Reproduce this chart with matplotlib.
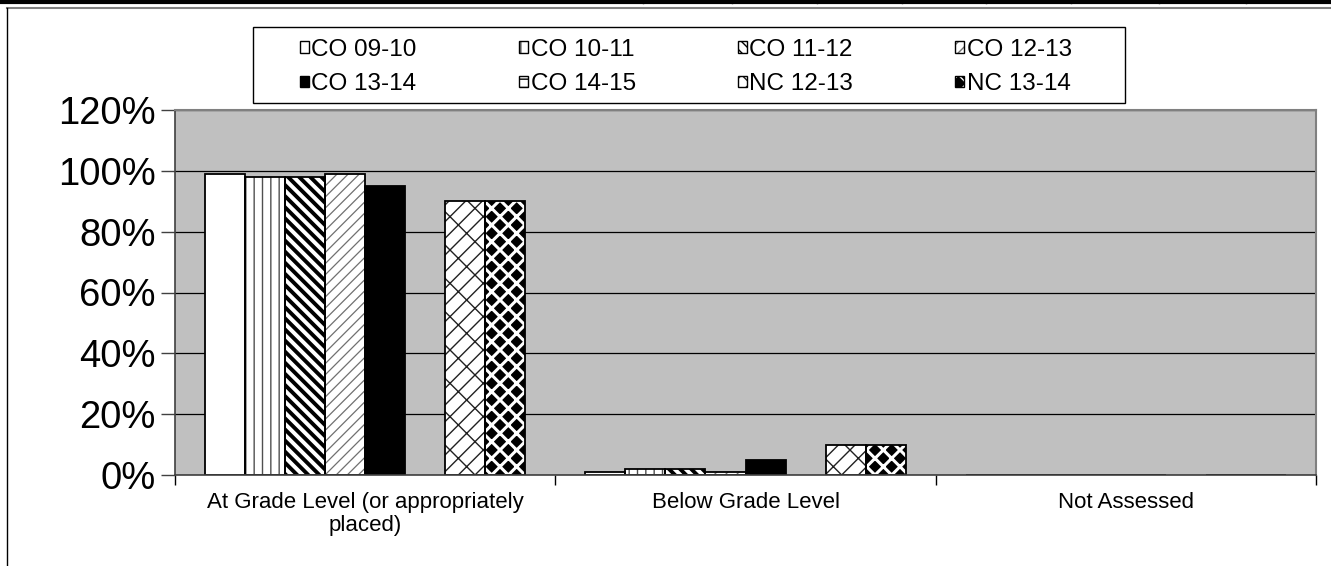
import matplotlib
matplotlib.use("Agg")
import matplotlib.pyplot as plt
import numpy as np
from matplotlib.lines import Line2D
from matplotlib.patches import Rectangle
from matplotlib.legend_handler import HandlerTuple
from matplotlib.ticker import FixedLocator, PercentFormatter

plt.rcParams['font.family'] = ['Liberation Sans', 'DejaVu Sans']

categories = ["At Grade Level (or appropriately\nplaced)", "Below Grade Level", "Not Assessed"]
series_names = ["CO 09-10", "CO 10-11", "CO 11-12", "CO 12-13",
                "CO 13-14", "CO 14-15", "NC 12-13", "NC 13-14"]
co_09_10 = [99, 1, 0]
co_10_11 = [98, 2, 0]
co_11_12 = [98, 2, 0]
co_12_13 = [99, 1, 0]
co_13_14 = [95, 5, 0]
co_14_15 = [np.nan, np.nan, np.nan]
nc_12_13 = [90, 10, 0]
nc_13_14 = [90, 10, 0]
series_values = [co_09_10, co_10_11, co_11_12, co_12_13,
                 co_13_14, co_14_15, nc_12_13, nc_13_14]
y_ticks = [0, 20, 40, 60, 80, 100, 120]

# style per series: (facecolor, hatchcolor, hatch, hatch_linewidth)
styles = [
    ("white", "black", None, 1.0),
    ("white", "#505050", "||", 1.0),
    ("white", "black", "\\\\\\", 2.8),
    ("white", "#707070", "///", 0.9),
    ("black", "black", None, 1.0),
    ("white", "black", "--", 1.0),
    ("white", "#202020", "//\\", 1.0),
    ("black", "white", "xx", 2.2),
]


def hatched(artist, hlw):
    try:
        artist.set_hatch_linewidth(hlw)
    except AttributeError:
        pass


W, H = 1331, 566
fig = plt.figure(figsize=(W / 100, H / 100), dpi=100)
ax = fig.add_axes([175 / W, 1 - 475 / H, (1316 - 175) / W, (475 - 110) / H])
ax.set_facecolor("#C0C0C0")

n = len(series_names)
gap = 0.079
bw = (1 - 2 * gap) / n
x = np.arange(len(categories))

handles = []
for k, (name, vals) in enumerate(zip(series_names, series_values)):
    fc, hc, hatch, hlw = styles[k]
    pos = x + gap + bw * (k + 0.5)
    plt.rcParams['hatch.linewidth'] = hlw
    bars = ax.bar(pos, vals, width=bw, facecolor=fc, edgecolor=hc,
                  hatch=hatch, linewidth=0, zorder=2)
    for b in bars:
        hatched(b, hlw)
    ax.bar(pos, vals, width=bw, facecolor="none", edgecolor="black",
           linewidth=1.3, zorder=3)
    plt.rcParams['hatch.linewidth'] = min(hlw, 1.0)
    h_fill = Rectangle((0, 0), 1, 1, facecolor=fc, edgecolor=hc, hatch=hatch, linewidth=0)
    hatched(h_fill, min(hlw, 1.0))
    h_edge = Rectangle((0, 0), 1, 1, facecolor="none", edgecolor="black", linewidth=1.0)
    handles.append((h_fill, h_edge))

ax.set_xlim(0, len(categories))
ax.set_ylim(0, 120)
ax.yaxis.set_major_locator(FixedLocator(y_ticks))
ax.yaxis.set_major_formatter(PercentFormatter(decimals=0))
ax.grid(axis="y", color="black", linewidth=0.9, zorder=1)
ax.set_axisbelow(True)
ax.tick_params(axis="y", direction="out", length=10, width=1, color="#404040",
               labelsize=27.5, pad=4)

ax.set_xticks(np.arange(len(categories) + 1))
ax.set_xticklabels([])
ax.tick_params(axis="x", which="major", direction="out", length=7, width=1, color="black")
ax.set_xticks(x + 0.5, minor=True)
ax.set_xticklabels(categories, minor=True, fontsize=16, linespacing=1.15)
ax.tick_params(axis="x", which="minor", length=0, pad=12)

for side in ["top", "right"]:
    ax.spines[side].set_color("#808080")
    ax.spines[side].set_linewidth(1.5)
ax.spines["left"].set_color("#404040")
ax.spines["bottom"].set_color("#404040")
ax.spines["left"].set_linewidth(1.2)
ax.spines["bottom"].set_linewidth(1.2)
for s in ax.spines.values():
    s.set_zorder(4)

# legend (row-wise order)
order = [0, 4, 1, 5, 2, 6, 3, 7]
leg = fig.legend([handles[i] for i in order], [series_names[i] for i in order],
                 handler_map={tuple: HandlerTuple(ndivide=1)},
                 ncol=4, loc="center", bbox_to_anchor=(686 / W, 1 - 67 / H),
                 frameon=False, fontsize=17.5, handlelength=0.36, handleheight=0.36,
                 handletextpad=0.12, columnspacing=4.2, labelspacing=0.5)
fig.add_artist(Rectangle((253 / W, 1 - 103 / H), (1125 - 253) / W, (103 - 27) / H,
                         transform=fig.transFigure, facecolor="none",
                         edgecolor="black", linewidth=1.0))

# outer frame / table remnants
fig.add_artist(Line2D([0, 1], [1 - 1.5 / H, 1 - 1.5 / H], transform=fig.transFigure,
                      color="black", linewidth=3))
for vx in [643, 732, 817, 902, 986, 1071, 1159, 1246]:
    fig.add_artist(Line2D([vx / W, vx / W], [1, 1 - 3 / H], transform=fig.transFigure,
                          color="black", linewidth=1))
fig.add_artist(Line2D([7 / W, 1], [1 - 8 / H, 1 - 8 / H], transform=fig.transFigure,
                      color="#808080", linewidth=1.5))
fig.add_artist(Line2D([7 / W, 7 / W], [1 - 8 / H, 0], transform=fig.transFigure,
                      color="black", linewidth=1))

fig.savefig("out.png", dpi=100)
